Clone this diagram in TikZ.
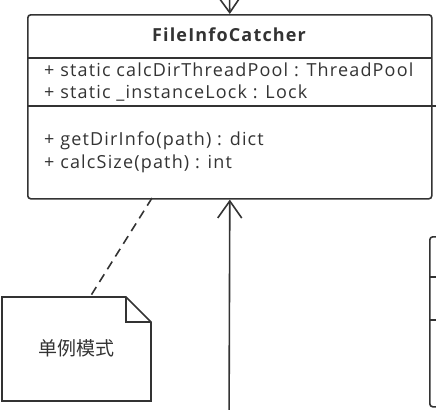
\documentclass[tikz,border=0pt]{standalone}
\usepackage{fontspec}
\setmainfont{Open Sans}
\newfontfamily\umlfont[LetterSpace=6.5]{Open Sans}
\newfontfamily\cjk{Noto Sans CJK SC}
\usetikzlibrary{arrows.meta}
\definecolor{umlgray}{HTML}{333333}
\tikzset{
	classbox/.style={draw=umlgray, line width=1.6bp, rounded corners=3bp, anchor=north west, inner sep=0pt},
	member/.style={anchor=west, inner sep=0pt, text=umlgray, font=\umlfont\fontsize{18bp}{21bp}\selectfont},
	umlline/.style={draw=umlgray, line width=1.6bp},
	inherit/.style={umlline, -{Straight Barb[length=17bp, width=24bp, line width=1.6bp]}}
}
\begin{document}
\begin{tikzpicture}[x=1bp, y=-1bp]
		\useasboundingbox (0,0) rectangle (436,409);
		% the class box
		\node[classbox, minimum width=404bp, minimum height=184bp] (catcher) at (27,14) {};
		\node[member, anchor=center, font=\umlfont\fontsize{18bp}{21bp}\selectfont\bfseries] (title) at (229,35) {FileInfoCatcher};
		\draw[umlline] (27,58) -- (431,58);
		\draw[umlline] (27,106) -- (436,106);
		\node[member] (calcpool) at (44,70) {+ static calcDirThreadPool : ThreadPool};
		\node[member] (instlock) at (44,93) {+ static \_instanceLock : Lock};
		\node[member] (getinfo) at (44,141) {+ getDirInfo(path) : dict};
		\node[member] (calcsize) at (44,164) {+ calcSize(path) : int};
		% the class on the right, cut off
		\node[classbox, minimum width=60bp, minimum height=170bp] (other) at (429,236) {};
		\draw[umlline] (429,277) -- (436,277);
		\draw[umlline] (429,320) -- (436,320);
		% note
		\draw[umlline, line join=miter] (2,297) -- (126,297) -- (151,322) -- (151,401) -- (2,401) -- cycle;
		\draw[umlline, line join=miter] (126,297) -- (126,322) -- (151,322);
		\node[text=umlgray, font=\cjk\fontsize{19bp}{21bp}\selectfont] (note) at (76,348) {单例模式};
		\coordinate (notetop) at (90,297);
		\coordinate (dashstart) at (152,198);
		\draw[umlline, dash pattern=on 9bp off 6bp] (dashstart) -- (notetop);
		% inheritance arrows
		\coordinate (above) at (229,-30);
		\coordinate (below) at (229,430);
		\draw[inherit] (above) -- (catcher.north);
		\draw[inherit] (below) -- (catcher.south);
\end{tikzpicture}
\end{document}
